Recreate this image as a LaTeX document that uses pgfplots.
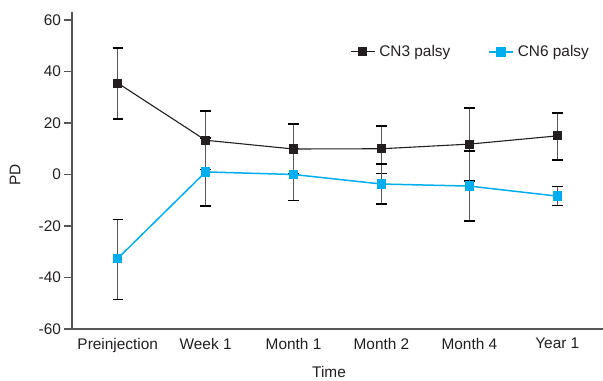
\documentclass[border=0pt]{standalone}
\usepackage{fontspec}
\setmainfont{Liberation Sans}
\usepackage{pgfplots}
\usepackage{pgfplotstable}
\pgfplotsset{compat=1.18}
\definecolor{txt}{HTML}{231F20}
\definecolor{cyanline}{HTML}{00AEEF}
\definecolor{axgray}{HTML}{555555}

\pgfplotstableread{
x y ep em
0 35.5 13.6 13.9
1 13.3 11.4 11.4
2 9.9 9.7 9.7
3 10.0 8.8 9.7
4 11.8 14.0 14.3
5 15.0 8.9 9.4
}\cnthree
\pgfplotstableread{
x y ep em
0 -32.6 15.1 16.0
1 1.0 13.2 13.2
2 0.0 10.2 10.2
3 -3.7 7.8 7.8
4 -4.5 13.6 13.6
5 -8.4 3.7 3.7
}\cnsix

\begin{document}
\begin{tikzpicture}
\begin{axis}[
  at={(0,0)}, anchor=south west,
  scale only axis, width=265.5pt, height=158.5pt,
  xmin=-0.52, xmax=5.52, ymin=-60, ymax=63.1,
  axis x line*=bottom, axis y line*=left,
  axis line style={axgray, line width=0.6pt, -},
  xtick={0,...,5},
  xticklabels={Preinjection,Week 1,Month 1,Month 2,Month 4,Year 1},
  x tick style={draw=none},
  ytick={-60,-40,...,60},
  y tick style={axgray, line width=0.6pt},
  tick align=outside, major tick length=4pt,
  /pgf/number format/assume math mode=true,
  tick label style={font=\fontsize{7.7}{9}\selectfont, text=txt},
  xticklabel style={yshift=3pt},
  yticklabel style={inner xsep=1.3pt},
  label style={font=\fontsize{7.7}{9}\selectfont, text=txt},
  xlabel={Time}, ylabel={PD},
  xlabel style={at={(axis description cs:0.484,0)}, anchor=center, yshift=-21.5pt},
  ylabel style={at={(axis description cs:-0.107,0.486)}, anchor=center},
  legend style={at={(rel axis cs:0.993,0.874)}, anchor=east, draw=none, fill=none,
    font=\fontsize{7.7}{9}\selectfont, text=txt, legend columns=2,
    nodes={inner xsep=2pt},
    /tikz/every even column/.append style={column sep=17pt}},
  legend image code/.code={\draw[mark repeat=2, mark phase=2, #1] plot coordinates {(0pt,0pt) (6pt,0pt) (12pt,0pt)};},
  clip=false,
]
% error bars
\addplot[draw=none, mark=none, forget plot,
  error bars/.cd, y dir=both, y explicit,
  error bar style={axgray, line width=0.65pt},
  error mark options={rotate=90, mark size=2.6pt, black, line width=0.65pt}]
  table[x=x, y=y, y error plus=ep, y error minus=em] {\cnthree};
\addplot[draw=none, mark=none, forget plot,
  error bars/.cd, y dir=both, y explicit,
  error bar style={axgray, line width=0.65pt},
  error mark options={rotate=90, mark size=2.6pt, black, line width=0.65pt}]
  table[x=x, y=y, y error plus=ep, y error minus=em] {\cnsix};
% lines
\addplot[txt, line width=0.55pt, mark=square*, mark size=2pt, mark options={solid, fill=txt, draw=txt}]
  table[x=x, y=y] {\cnthree};
\addlegendentry{CN3 palsy}
\addplot[cyanline, line width=0.75pt, mark=square*, mark size=2pt, mark options={solid, fill=cyanline, draw=cyanline}]
  table[x=x, y=y] {\cnsix};
\addlegendentry{CN6 palsy}
\end{axis}
\pgfresetboundingbox
\path[use as bounding box] (-36pt,-25.5pt) rectangle (265.5pt,164.5pt);
\end{tikzpicture}
\end{document}
